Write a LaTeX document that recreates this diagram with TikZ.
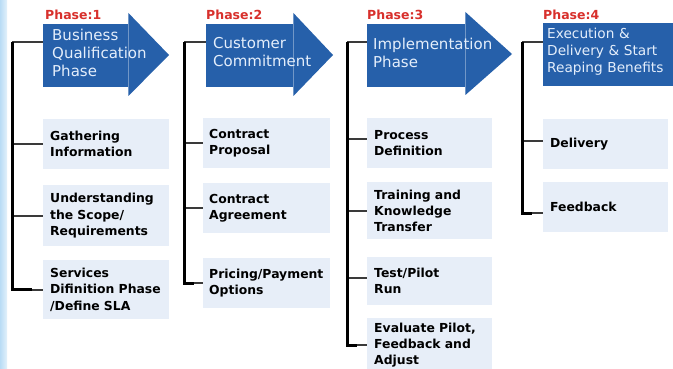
\documentclass[tikz,border=0pt]{standalone}
\usepackage{fontspec}
\setmainfont{DejaVu Sans}
\usetikzlibrary{calc}
\definecolor{arrowblue}{HTML}{2660AA}
\definecolor{boxfill}{HTML}{E7EEF8}
\definecolor{phasered}{HTML}{D8302C}
\definecolor{arrowtext}{HTML}{E4EEFB}
\definecolor{stripblue}{HTML}{B9DCF5}
\definecolor{branchgray}{HTML}{3A3A3A}
\tikzset{
  body/.style={fill=arrowblue, draw=none, inner sep=0pt, anchor=north west},
  head/.style={fill=arrowblue, draw=none},
  atext/.style={anchor=base west, inner sep=0pt, text=arrowtext, text width=200pt, align=left,
    font=\fontsize{15}{18}\selectfont},
  ptext/.style={anchor=base west, inner sep=0pt, text=phasered, font=\fontsize{12.5}{14}\selectfont\bfseries},
  taskbox/.style={fill=boxfill, draw=none, anchor=north west, inner xsep=7pt, inner ysep=0pt,
    align=left, font=\fontsize{12.4}{16.3}\selectfont\bfseries},
  trunk/.style={draw=black, line width=3pt},
  branch/.style={draw=branchgray, line width=2.4pt},
}
\begin{document}
\begin{tikzpicture}[x=1pt,y=-1pt]
\useasboundingbox (0,0) rectangle (673,369);
\fill[white] (0,0) rectangle (673,369);
\shade[left color=stripblue, right color=stripblue!40] (0,0) rectangle (7,369);

% Phase labels
\node[ptext] (p1) at (45,19.3) {Phase:1};
\node[ptext] (p2) at (206,19.3) {Phase:2};
\node[ptext] (p3) at (367,19.3) {Phase:3};
\node[ptext] (p4) at (543,19.3) {Phase:4};

% Arrow bodies
\node[body, minimum width=85pt, minimum height=63pt] (a1) at (43,24) {};
\node[body, minimum width=87pt, minimum height=63pt] (a2) at (206,24) {};
\node[body, minimum width=98pt, minimum height=63pt] (a3) at (367,24) {};
\node[body, minimum width=131pt, minimum height=63pt] (a4) at (543,23) {};
% Arrow heads
\fill[head] (a1.north east) -- ++(0,-11) -- (169,55) -- (a1.south east |- 0,96) -- (a1.south east) -- cycle;
\fill[head] (a2.north east) -- ++(0,-11) -- (333,55) -- (a2.south east |- 0,96) -- (a2.south east) -- cycle;
\fill[head] (a3.north east) -- ++(0,-12) -- (512,54) -- (a3.south east |- 0,95) -- (a3.south east) -- cycle;

% Arrow texts
\node[atext] (a1t) at (52,41) {Business\\Qualification\\Phase};
\node[atext] (a2t) at (213,48.5) {Customer\\Commitment};
\node[atext] (a3t) at (373,49.5) {Implementation\\Phase};
\node[atext, font=\fontsize{13.7}{17}\selectfont] (a4t) at (547,38.5) {Execution \&\\Delivery \& Start\\Reaping Benefits};

% Task boxes phase 1
\node[taskbox, minimum width=126pt, minimum height=50pt, text width=112pt] (b11) at (43,119) {Gathering\\Information};
\node[taskbox, minimum width=126pt, minimum height=61pt, text width=112pt] (b12) at (43,185) {Understanding\\the Scope/\\Requirements};
\node[taskbox, minimum width=126pt, minimum height=59pt, text width=112pt] (b13) at (43,260) {Services\\Difinition Phase\\/Define SLA};
% phase 2
\node[taskbox, inner xsep=6pt, minimum width=127pt, minimum height=50pt, text width=115pt] (b21) at (203,118) {Contract\\Proposal};
\node[taskbox, inner xsep=6pt, minimum width=127pt, minimum height=50pt, text width=115pt] (b22) at (203,183) {Contract\\Agreement};
\node[taskbox, inner xsep=6pt, minimum width=127pt, minimum height=50pt, text width=115pt] (b23) at (203,258) {Pricing/Payment\\Options};
% phase 3
\node[taskbox, minimum width=125pt, minimum height=50pt, text width=111pt] (b31) at (367,118) {Process\\Definition};
\node[taskbox, minimum width=125pt, minimum height=57pt, text width=111pt] (b32) at (367,182) {Training and\\Knowledge\\Transfer};
\node[taskbox, minimum width=125pt, minimum height=48pt, text width=111pt] (b33) at (367,257) {Test/Pilot\\Run};
\node[taskbox, minimum width=125pt, minimum height=54pt, text width=111pt] (b34) at (367,318) {Evaluate Pilot,\\Feedback and\\Adjust};
% phase 4
\node[taskbox, minimum width=125pt, minimum height=50pt, text width=111pt] (b41) at (543,119) {Delivery};
\node[taskbox, minimum width=125pt, minimum height=50pt, text width=111pt] (b42) at (543,182) {Feedback};

% Connectors
\coordinate (t1) at (12,42);
\coordinate (t2) at (184,42);
\coordinate (t3) at (347,42);
\coordinate (t4) at (522,42);

\draw[branch] (t1) -- (a1.west |- t1);
\draw[branch] (t1 |- b11.west) -- (b11.west);
\draw[branch] (t1 |- b12.west) -- (b12.west);
\draw[branch] (t1 |- b13.west) -- (b13.west);
\draw[trunk] (t1) |- ($(t1 |- b13.west)+(20,0)$);

\draw[branch] (t2) -- (a2.west |- t2);
\draw[branch] (t2 |- b21.west) -- (b21.west);
\draw[branch] (t2 |- b22.west) -- (b22.west);
\draw[branch] (t2 |- b23.west) -- (b23.west);
\draw[trunk] (t2) |- ($(t2 |- b23.west)+(10,0)$);

\draw[branch] (t3) -- (a3.west |- t3);
\draw[branch] ($(t3 |- b31.west)+(0,-4)$) -- ($(b31.west)+(0,-4)$);
\draw[branch] (t3 |- b32.west) -- (b32.west);
\draw[branch] ($(t3 |- b33.west)+(0,-3)$) -- ($(b33.west)+(0,-3)$);
\draw[branch] (t3 |- b34.west) -- (b34.west);
\draw[trunk] (t3) |- ($(t3 |- b34.west)+(10,0)$);

\draw[branch] (t4) -- (a4.west |- t4);
\draw[branch] ($(t4 |- b41.west)+(0,-3)$) -- ($(b41.west)+(0,-3)$);
\draw[branch] ($(t4 |- b42.west)+(0,6)$) -- ($(b42.west)+(0,6)$);
\draw[trunk] (t4) |- ($(t4 |- b42.west)+(10,6)$);
\end{tikzpicture}
\end{document}
